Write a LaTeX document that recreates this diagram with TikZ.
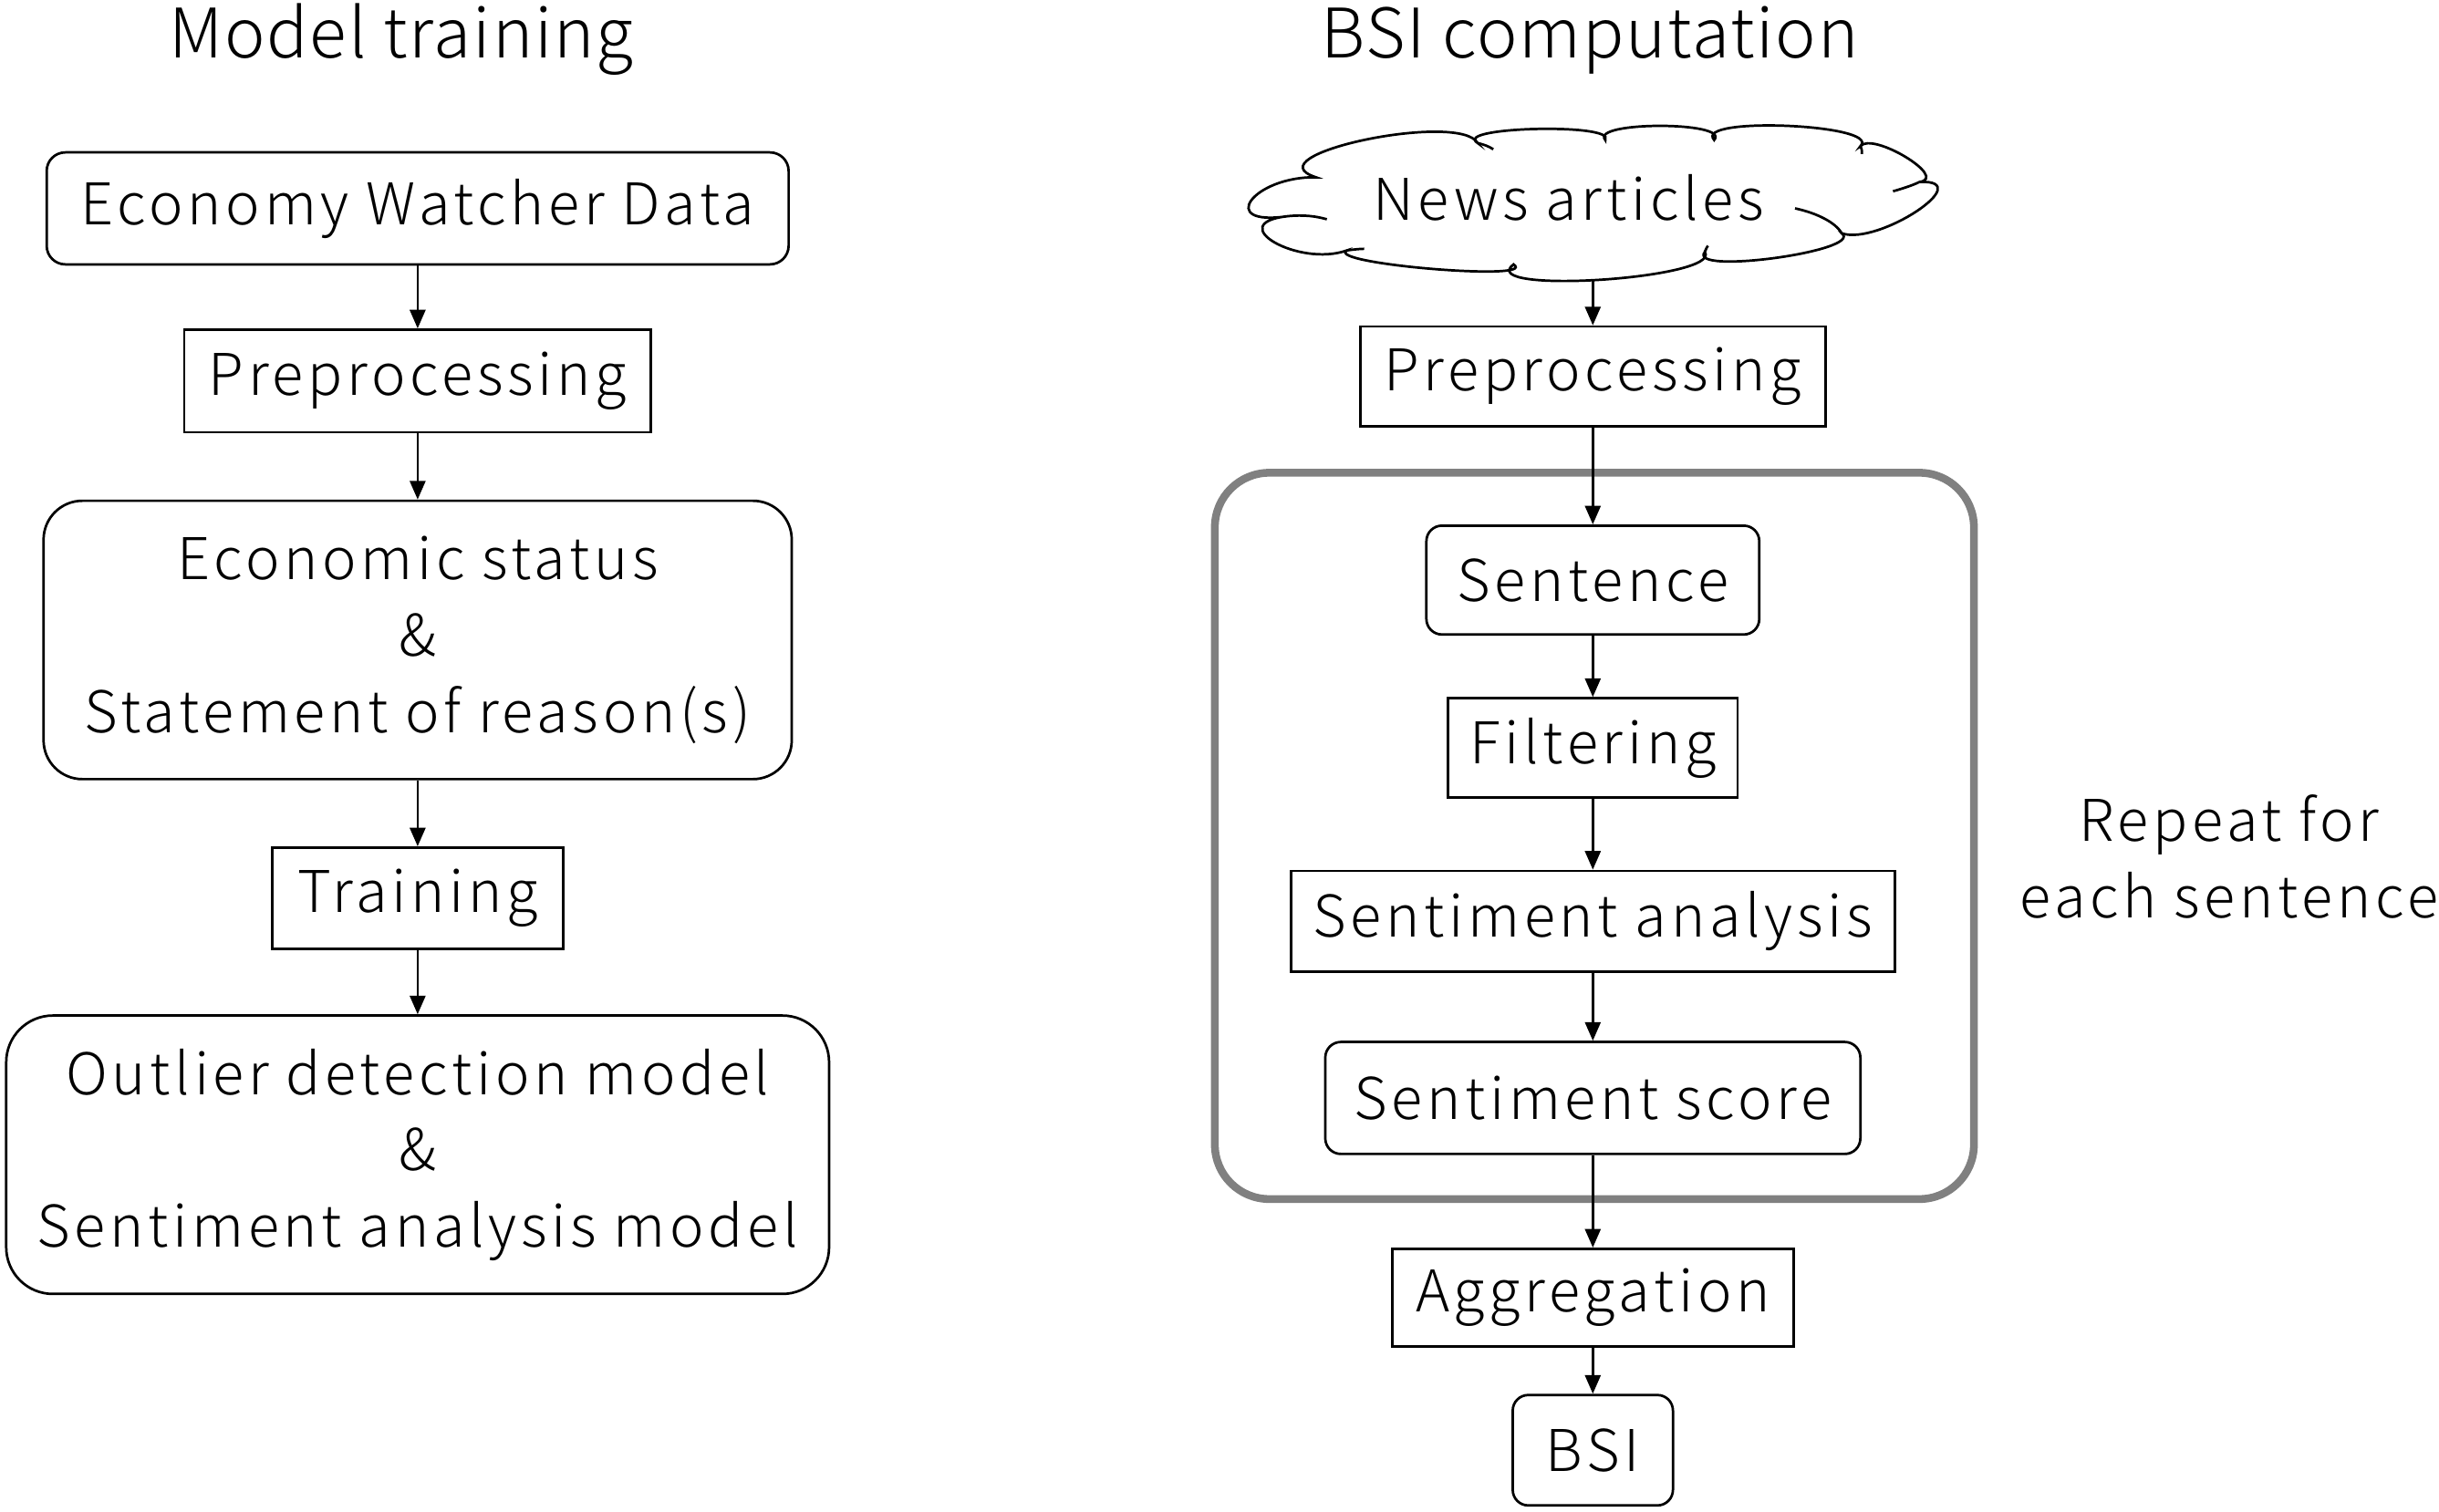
\documentclass[tikz,border=0pt]{standalone}
\usepackage{fontspec}
\setmainfont{Noto Sans CJK JP Light}
\newfontfamily\boxfont{Noto Sans CJK JP Light}[LetterSpace=7.5]
\newfontfamily\titlefont{Noto Sans CJK JP Light}[LetterSpace=2.5]
\usetikzlibrary{calc,arrows.meta}
\newcommand\cpuff[3]{.. controls ($0.483*#1+1.333*#2-0.817*#3$) and ($0.483*#3+1.333*#2-0.817*#1$) .. #3}
\tikzset{
  box/.style={draw=black,line width=0.8pt,align=center,inner sep=0pt,font=\boxfont\fontsize{18.5}{24.5}\selectfont},
  rbox/.style={box,rounded corners=6pt},
  title/.style={font=\titlefont\fontsize{22}{26}\selectfont,inner sep=0pt,anchor=base},
  arr/.style={line width=0.8pt,-{Triangle[length=6pt,width=5pt]}},
  cloudline/.style={line width=0.8pt},
}
\begin{document}
\begin{tikzpicture}[x=0.5pt,y=-0.5pt]
\useasboundingbox (0,0) rectangle (1568,972);
% titles
\node[title] (t1) at (258,37) {Model training};
\node[title] (t2) at (1022,37) {BSI computation};
% left column
\node[rbox,minimum width=238.5pt,minimum height=36pt] (ewd) at (268.5,134) {Economy Watcher Data};
\node[box,minimum width=150pt,minimum height=33pt] (pre1) at (268.5,245) {Preprocessing};
\node[box,rounded corners=12.5pt,minimum width=240.5pt,minimum height=89.5pt] (econ) at (268.5,411.5) {Economic status\\\&\\Statement of reason(s)};
\node[box,minimum width=93.5pt,minimum height=32.5pt] (train) at (268.5,577.5) {Training};
\node[box,rounded corners=15pt,minimum width=264.5pt,minimum height=89.5pt] (outl) at (268.5,742.5) {Outlier detection model\\\&\\Sentiment analysis model};
\draw[arr] (ewd) -- (pre1);
\draw[arr] (pre1) -- (econ);
\draw[arr] (econ) -- (train);
\draw[arr] (train) -- (outl);
% right column
\node[draw=black!50,line width=2.5pt,rounded corners=17.5pt,minimum width=244pt,minimum height=233.5pt,inner sep=0pt] (frame) at (1025,537.5) {};
% cloud
\draw[cloudline] (846,114) \cpuff{(846,114)}{(805,129)}{(828,139)}
  \cpuff{(828,139)}{(820,156)}{(866,161)}
  \cpuff{(866,161)}{(921,173)}{(973,170)}
  \cpuff{(973,170)}{(1030,180)}{(1096,162)}
  \cpuff{(1096,162)}{(1142,166)}{(1184,150)}
  \cpuff{(1184,150)}{(1233,136)}{(1234,117)}
  \cpuff{(1234,117)}{(1226,101)}{(1196,94)}
  \cpuff{(1196,94)}{(1150,81)}{(1102,90)}
  \cpuff{(1102,90)}{(1068,81)}{(1032,90)}
  \cpuff{(1032,90)}{(988,83)}{(950,92)}
  \cpuff{(950,92)}{(878,90)}{(846,114)} -- cycle;
\draw[cloudline] (828,139) .. controls (838,138) and (846,139) .. (853,141);
\draw[cloudline] (866,161) .. controls (870,160.5) and (874,160) .. (877,160);
\draw[cloudline] (950,92) .. controls (954,93) and (957,94) .. (960,96);
\draw[cloudline] (1154,134) .. controls (1168,137) and (1180,143) .. (1184,150);
\draw[cloudline] (1217,123) .. controls (1224,121) and (1230,119) .. (1234,117);
\draw[cloudline] (1096,162) .. controls (1097,160) and (1097,159) .. (1098,158);
\draw[cloudline] (1196,94) .. controls (1197,96) and (1197,97) .. (1197,99);
\node[inner sep=0pt,font=\boxfont\fontsize{18.5}{24.5}\selectfont] (news) at (1008.5,127) {News articles};
\coordinate (cloudbot) at (1024,180);
\node[box,minimum width=149.5pt,minimum height=32pt] (pre2) at (1024,242) {Preprocessing};
\node[box,rounded corners=5pt,minimum width=107pt,minimum height=35pt] (sent) at (1024,373) {Sentence};
\node[box,minimum width=93pt,minimum height=32pt] (filt) at (1024,481) {Filtering};
\node[box,minimum width=194pt,minimum height=32.5pt] (sa) at (1024,592.5) {Sentiment analysis};
\node[box,rounded corners=5pt,minimum width=172pt,minimum height=36pt] (ss) at (1024,706) {Sentiment score};
\node[box,minimum width=129pt,minimum height=31.5pt] (agg) at (1024,834.5) {Aggregation};
\node[box,rounded corners=5pt,minimum width=51.5pt,minimum height=35.5pt] (bsi) at (1024,932.5) {BSI};
\node[align=center,inner sep=0pt,font=\boxfont\fontsize{18.5}{24.5}\selectfont] (rep) at (1433,551) {Repeat for\\each sentence};
\draw[arr] (cloudbot) -- (pre2);
\draw[arr] (pre2) -- (sent);
\draw[arr] (sent) -- (filt);
\draw[arr] (filt) -- (sa);
\draw[arr] (sa) -- (ss);
\draw[arr] (ss) -- (agg);
\draw[arr] (agg) -- (bsi);
\end{tikzpicture}
\end{document}
